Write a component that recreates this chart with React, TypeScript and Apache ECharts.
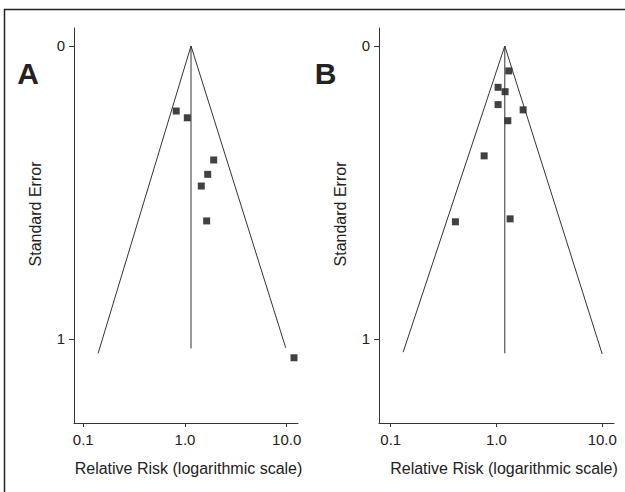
import React, { useEffect, useRef } from "react";
import * as echarts from "echarts";

// Panel A data: relative risk and standard error per study
const studiesA_rr = [0.82, 1.054, 1.915, 1.672, 1.446, 1.634, 11.8];
const studiesA_se = [0.222, 0.245, 0.389, 0.438, 0.478, 0.597, 1.064];
const pooledA = 1.146;
const funnelA_left: [number, number] = [0.14, 1.049];
const funnelA_right: [number, number] = [9.78, 1.03];
const funnelA_vertEnd = 1.032;

// Panel B data
const studiesB_rr = [1.307, 1.035, 1.206, 1.035, 1.786, 1.279, 0.764, 0.409, 1.345];
const studiesB_se = [0.085, 0.141, 0.156, 0.2, 0.218, 0.255, 0.375, 0.6, 0.59];
const pooledB = 1.198;
const funnelB_left: [number, number] = [0.131, 1.045];
const funnelB_right: [number, number] = [9.98, 1.051];
const funnelB_vertEnd = 1.049;

const xTickRR = [0.1, 1, 10];
const yTicks = [0, 1];
const yTickLabels = ["0", "1"];
const xTitle = "Relative Risk (logarithmic scale)";
const yTitle = "Standard Error";

const FONT = "'Liberation Sans', Arial, Helvetica, sans-serif";
const INK = "#222";
const LINE = "#333";

const lg = (v: number) => Math.log10(v);

function panelSeries(
  idx: number,
  rr: number[],
  se: number[],
  pooled: number,
  left: [number, number],
  right: [number, number],
  vertEnd: number
) {
  const common = {
    xAxisIndex: idx,
    yAxisIndex: idx,
    silent: true,
  };
  return [
    {
      ...common,
      type: "line",
      symbol: "none",
      lineStyle: { color: LINE, width: 1 },
      data: [
        [lg(left[0]), left[1]],
        [lg(pooled), 0],
        [lg(right[0]), right[1]],
      ],
    },
    {
      ...common,
      type: "line",
      symbol: "none",
      lineStyle: { color: LINE, width: 1 },
      data: [
        [lg(pooled), 0],
        [lg(pooled), vertEnd],
      ],
    },
    {
      ...common,
      type: "scatter",
      symbol: "rect",
      symbolSize: 7,
      itemStyle: { color: "#111" },
      data: rr.map((r, i) => [lg(r), se[i]]),
    },
  ];
}

function xAxisFor(idx: number, min: number, max: number) {
  const ticks = xTickRR.map(lg);
  return {
    gridIndex: idx,
    type: "value",
    position: "bottom",
    min,
    max,
    axisLine: { show: true, onZero: false, lineStyle: { color: LINE, width: 1 } },
    axisTick: { show: true, length: 4, customValues: ticks, lineStyle: { color: LINE } },
    axisLabel: {
      customValues: ticks,
      margin: 9,
      color: INK,
      fontSize: 15,
      fontFamily: FONT,
      formatter: (v: number) => Math.pow(10, v).toFixed(1),
    },
    splitLine: { show: false },
  };
}

function yAxisFor(idx: number) {
  return {
    gridIndex: idx,
    type: "value",
    position: "left",
    inverse: true,
    min: -0.0614,
    max: 1.2867,
    axisLine: { show: true, onZero: false, lineStyle: { color: LINE, width: 1 } },
    axisTick: { show: true, length: 5, customValues: yTicks, lineStyle: { color: LINE } },
    axisLabel: {
      customValues: yTicks,
      margin: 9,
      color: INK,
      fontSize: 15,
      fontFamily: FONT,
      formatter: (v: number) => yTickLabels[yTicks.indexOf(Math.round(v))] ?? String(v),
    },
    splitLine: { show: false },
  };
}

function text(x: number, y: number, t: string, size: number, bold = false, rotation = 0) {
  return {
    type: "text",
    x,
    y,
    rotation,
    silent: true,
    style: {
      text: t,
      fill: INK,
      font: `${bold ? "bold " : ""}${size}px ${FONT}`,
      textAlign: "center",
      textVerticalAlign: "middle",
    },
  };
}

export default function App() {
  const ref = useRef<HTMLDivElement>(null);
  useEffect(() => {
    if (!ref.current) return;
    const chart = echarts.init(ref.current, undefined, { renderer: "svg" });
    chart.setOption({
      animation: false,
      backgroundColor: "#fff",
      grid: [
        { left: 74, top: 28, width: 224, height: 395 },
        { left: 379, top: 28, width: 235, height: 395 },
      ],
      xAxis: [xAxisFor(0, -1.091, 1.111), xAxisFor(1, -1.111, 1.111)],
      yAxis: [yAxisFor(0), yAxisFor(1)],
      series: [
        ...panelSeries(0, studiesA_rr, studiesA_se, pooledA, funnelA_left, funnelA_right, funnelA_vertEnd),
        ...panelSeries(1, studiesB_rr, studiesB_se, pooledB, funnelB_left, funnelB_right, funnelB_vertEnd),
      ],
      graphic: [
        { type: "line", silent: true, shape: { x1: 4, y1: 9.5, x2: 625, y2: 9.5 }, style: { stroke: INK, lineWidth: 1.5 } },
        { type: "line", silent: true, shape: { x1: 4.5, y1: 9, x2: 4.5, y2: 492 }, style: { stroke: INK, lineWidth: 1.5 } },
        text(28, 73, "A", 30, true),
        text(325.5, 73, "B", 30, true),
        text(188.5, 468, xTitle, 16),
        text(504, 468, xTitle, 16),
        text(35, 214, yTitle, 16, false, Math.PI / 2),
        text(340, 214, yTitle, 16, false, Math.PI / 2),
      ],
    });
    return () => chart.dispose();
  }, []);
  return (
    <div
      ref={ref}
      style={{ position: "fixed", left: 0, top: 0, width: 625, height: 492, background: "#fff" }}
    />
  );
}
